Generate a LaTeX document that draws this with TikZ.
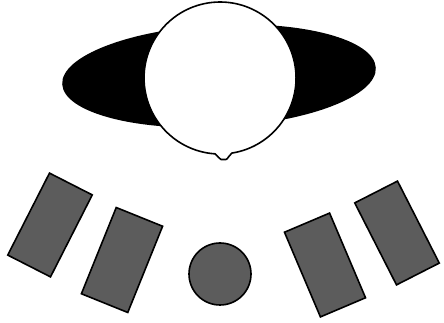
\documentclass[tikz,border=0pt]{standalone}
\usetikzlibrary{calc}
\definecolor{seatgray}{RGB}{92,92,92}
\tikzset{outline/.style={draw=black,line width=1.6pt},
 seat/.style={outline,fill=seatgray,minimum width=48pt,minimum height=92pt,inner sep=0pt},
 stool/.style={outline,fill=seatgray,circle,minimum size=62pt,inner sep=0pt},
 head/.style={outline,fill=white,line join=round}}

\begin{document}
\begin{tikzpicture}[x=1pt,y=1pt]
\useasboundingbox (0,0) rectangle (444,323);
\fill[black,rotate around={3:(219,247)}] (219,247) ellipse [x radius=157,y radius=51];
\draw[head] (231.8,169.9) arc[start angle=-81.1,end angle=266.2,radius=76]
 .. controls (218,167) and (219,164) .. (221,163.5) -- (226,163.5)
 .. controls (228,164) and (229,168) .. cycle;
\node[seat,rotate=-27] (seatA) at (50,98) {};
\node[seat,rotate=-22,minimum width=50pt,minimum height=93pt] (seatB) at (122,63) {};
\node[stool] (stool) at (220,49) {};
\node[seat,rotate=23,minimum width=49pt] (seatC) at (325,58) {};
\node[seat,rotate=27] (seatD) at (397,90) {};
\end{tikzpicture}
\end{document}
